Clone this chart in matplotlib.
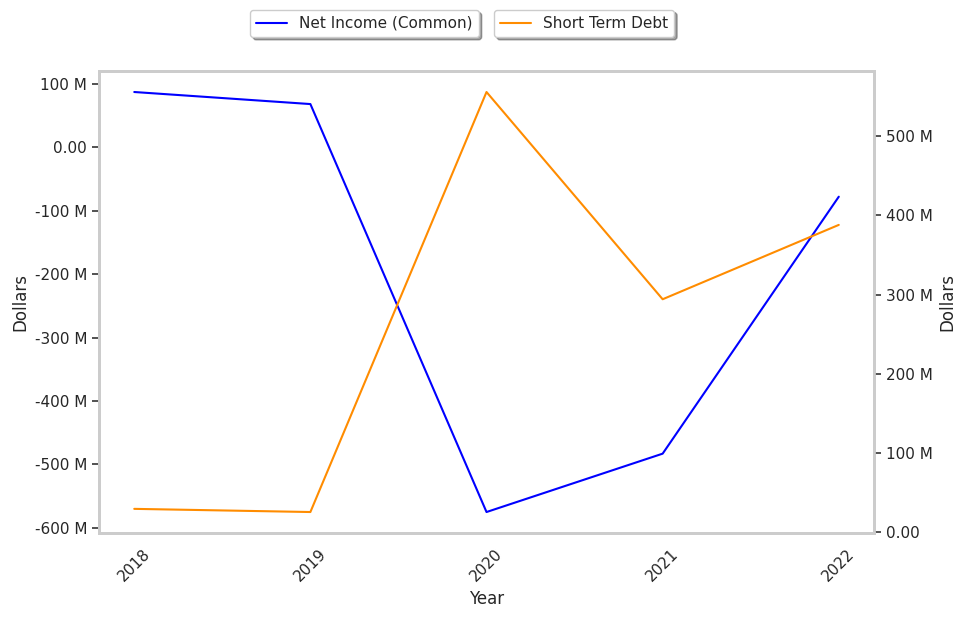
import matplotlib
matplotlib.use("Agg")
import matplotlib.pyplot as plt
import seaborn as sns
from matplotlib.ticker import FuncFormatter

years = ["2018", "2019", "2020", "2021", "2022"]
net_income = [87e6, 68e6, -575e6, -483e6, -78e6]
short_term_debt = [29e6, 25e6, 556e6, 294e6, 388e6]

sns.set_theme(style="white")
plt.rcParams['font.family'] = ['DejaVu Sans']

def fmt(x, pos):
    if abs(x) < 1e-6:
        return "0.00"
    return f"{x/1e6:.0f} M"

fig, ax = plt.subplots(figsize=(9.68, 6.18), dpi=100)
fig.subplots_adjust(left=0.1023, right=0.9029, top=0.8851, bottom=0.1375)
x = list(range(len(years)))
ax.plot(x, net_income, color="blue", lw=1.5, label="Net Income (Common)")
ax2 = ax.twinx()
ax2.plot(x, short_term_debt, color="darkorange", lw=1.5, label="Short Term Debt")

ax.set_xticks(x)
ax.set_xticklabels(years, rotation=45)
ax.set_xlabel("Year")
ax.set_ylabel("Dollars")
ax2.set_ylabel("Dollars")
ax.yaxis.set_major_formatter(FuncFormatter(fmt))
ax2.yaxis.set_major_formatter(FuncFormatter(fmt))

for a in (ax, ax2):
    for s in a.spines.values():
        s.set_color("#cccccc")
        s.set_linewidth(2)
    a.grid(False)
ax.tick_params(axis="y", left=True, length=5, width=1.2, color="#333333")
ax2.tick_params(axis="y", right=True, length=5, width=1.2, color="#333333")
ax.tick_params(axis="x", bottom=False)

ax.legend(loc="upper right", bbox_to_anchor=(0.5, 1.149), shadow=True, fancybox=True, fontsize=11)
ax2.legend(loc="upper left", bbox_to_anchor=(0.5, 1.149), shadow=True, fancybox=True, fontsize=11)

fig.savefig("out.png", dpi=100)
